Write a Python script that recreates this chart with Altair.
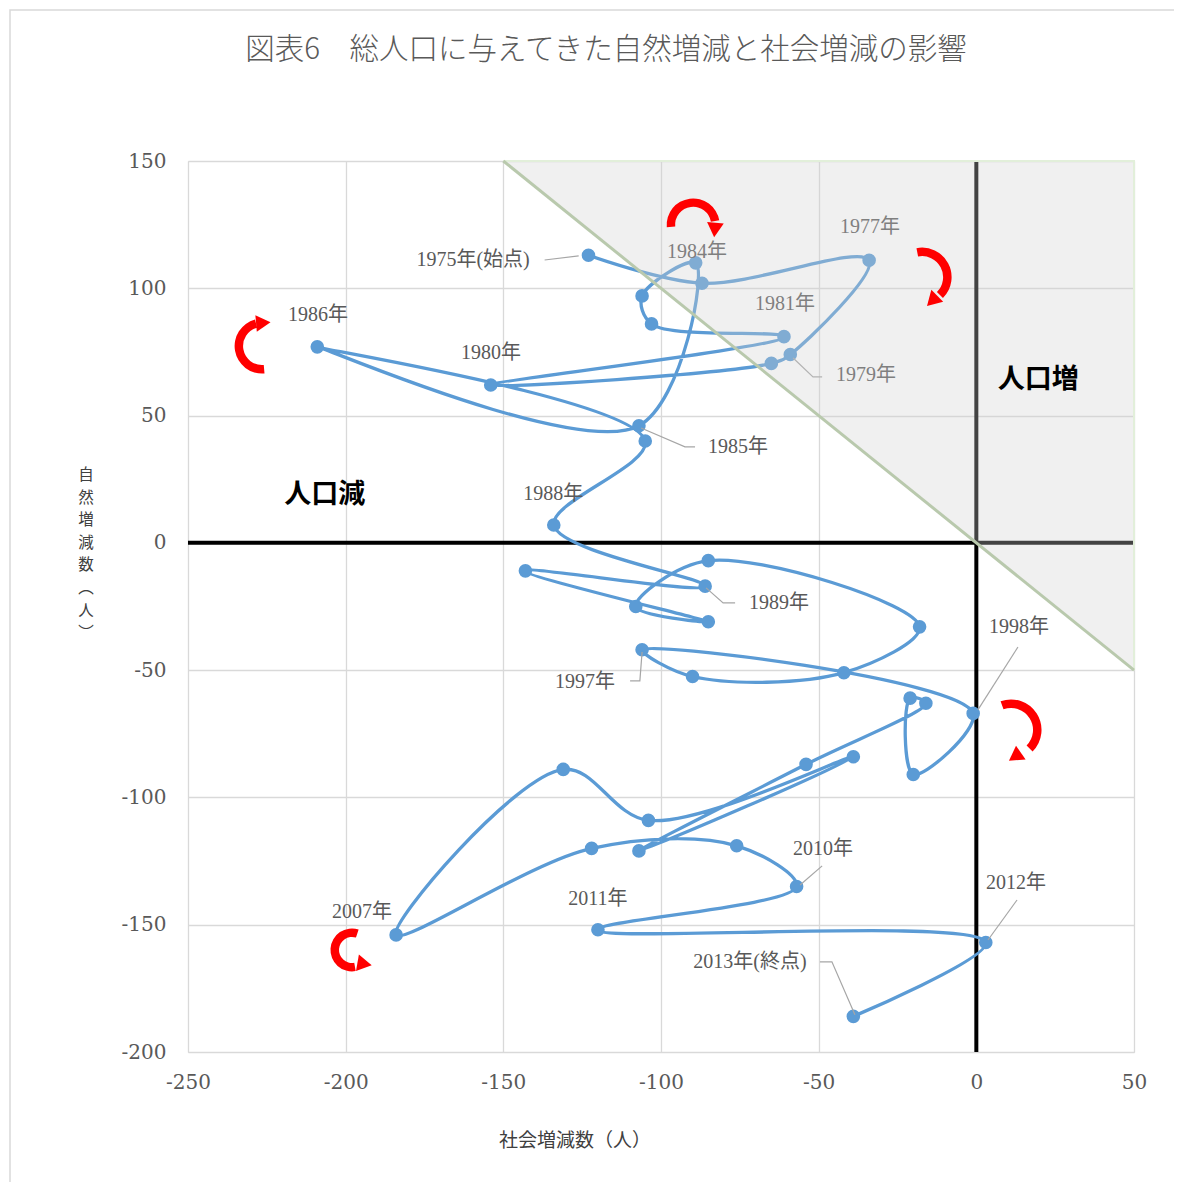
import math
import altair as alt
import pandas as pd

# ---------------- data ----------------
years = list(range(1975, 2014))
social = [-123, -87, -34, -59, -65, -154, -61, -103, -106, -89,
          -107, -209, -105, -134, -86, -143, -85, -108, -85, -18,
          -42, -90, -106, -1, -20, -21, -16, -54, -107, -39,
          -104, -131, -184, -122, -76, -57, -120, 3, -39]
natural = [113, 102, 111, 74, 70.5, 62, 81, 86, 97, 110,
           46, 77, 40, 7, -17, -11, -31, -25, -7, -33,
           -51, -52.5, -42, -67, -91, -61, -63, -87, -121, -84,
           -109, -89, -154, -120, -119, -135, -152, -157, -186]

label_text = ["1975年(始点)", "1984年", "1977年", "1981年", "1979年", "1980年",
              "1986年", "1985年", "1988年", "1989年", "1997年", "1998年",
              "2007年", "2010年", "2011年", "2012年", "2013年(終点)"]
label_x = [-159.6, -88.6, -33.7, -60.7, -35.0, -153.9, -208.8, -75.6, -134.2,
           -62.6, -124.1, 13.5, -194.8, -48.6, -120.0, 12.6, -71.8]
label_y = [111.1, 114.3, 124.1, 93.8, 66.0, 74.6, 89.5, 37.7, 19.2,
           -23.6, -54.6, -33.0, -145.0, -120.2, -139.9, -133.6, -164.6]

leader_id = [0, 0, 1, 1, 1, 2, 2, 2, 3, 3, 3, 4, 4, 4, 5, 5, 6, 6, 7, 7, 8, 8, 8]
leader_x = [-136.9, -126.1, -48.9, -51.8, -58.1, -89.2, -92.4, -106.3,
            -76.5, -80.3, -85.7, -109.8, -106.7, -106.0, 13.2, 0.5,
            -48.9, -55.9, 12.9, 3.7, -49.6, -45.8, -38.5]
leader_y = [111.1, 112.7, 65.2, 65.2, 72.6, 37.7, 37.7, 45.1,
            -23.6, -23.6, -17.7, -54.2, -54.2, -42.9, -40.9, -65.6,
            -126.9, -134.4, -140.3, -156.0, -164.6, -164.6, -185.4]

zone_text = ["人口増", "人口減"]
zone_x = [19.6, -206.6]
zone_y = [64.0, 18.8]

# curved red arrows: centre (data units), radius (px), arc span (deg), head
arrow_cx = [-89.8, -17.2, -226.5, 11.0, -198.0]
arrow_cy = [124.9, 104.4, 77.3, -73.5, -159.9]
arrow_r = [22, 25, 23, 26, 17]
arrow_t1 = [265, 349, 175, 340, 170]
arrow_t2 = [440, 495, 345, 495, 378]
arrow_head_t = [97, 152, 357, 167, 143]
arrow_head_angle = [185, 225, 85, 235, 100]

x_ticks = [-250, -200, -150, -100, -50, 0, 50]
y_ticks = [-200, -150, -100, -50, 0, 50, 100, 150]

y_title_chars = list("自然増減数︵人︶")

# ---------------- layout ----------------
W, H = 946, 891
PX_X = W / 300.0
PX_Y = H / 350.0
BLUE = "#5b9bd5"
GREY_TXT = "#595959"

xs = alt.Scale(domain=[-250, 50], nice=False, zero=False)
ys = alt.Scale(domain=[-200, 150], nice=False, zero=False)

XAX = alt.Axis(values=x_ticks, title=None, grid=True, ticks=False, domain=False,
               labelPadding=20, labelFont="DejaVu Serif", labelFontSize=20,
               labelColor=GREY_TXT, labelExpr="'' + datum.value",
               labelFlush=False, labelOverlap=False,
               gridColor="#d9d9d9", gridWidth=1.3)
YAX = alt.Axis(values=y_ticks, title=None, grid=True, ticks=False, domain=False,
               labelPadding=22, labelFont="DejaVu Serif", labelFontSize=20,
               labelColor=GREY_TXT, labelExpr="'' + datum.value",
               labelFlush=False, labelOverlap=False,
               gridColor="#d9d9d9", gridWidth=1.3)


def X(f):
    return alt.X(f, type="quantitative", scale=xs, axis=XAX)


def Y(f):
    return alt.Y(f, type="quantitative", scale=ys, axis=YAX)


df = pd.DataFrame({"year": years, "social": social, "natural": natural,
                   "i": list(range(len(years)))})
lab = pd.DataFrame({"t": label_text, "x": label_x, "y": label_y})
lead = pd.DataFrame({"g": leader_id, "x": leader_x, "y": leader_y,
                     "o": list(range(len(leader_id)))})
zones = pd.DataFrame({"t": zone_text, "x": zone_x, "y": zone_y})
one = pd.DataFrame({"a": [0]})
ychars = pd.DataFrame({"c": y_title_chars, "k": list(range(len(y_title_chars)))})

# black lines at 0
hline = alt.Chart(pd.DataFrame({"x": [-250], "x2": [50], "y": [0]})).mark_rule(
    color="black", strokeWidth=4).encode(x=X("x"), x2="x2:Q", y=Y("y"))
vline = alt.Chart(pd.DataFrame({"x": [0], "y": [-200], "y2": [150]})).mark_rule(
    color="black", strokeWidth=4).encode(x=X("x"), y=Y("y"), y2="y2:Q")

# outer frame
frame = alt.Chart(one).mark_rect(fillOpacity=0, stroke="#d9d9d9", strokeWidth=1.5).encode(
    x=alt.value(-178), x2=alt.value(1300), y=alt.value(-151), y2=alt.value(1300))

path = alt.Chart(df).mark_line(color=BLUE, strokeWidth=3.3, interpolate="catmull-rom").encode(
    x=X("social"), y=Y("natural"), order="i:Q")
pts = alt.Chart(df).mark_circle(color=BLUE, size=185, opacity=1).encode(
    x=X("social"), y=Y("natural"))

leaders = alt.Chart(lead).mark_line(color="#a6a6a6", strokeWidth=1.2).encode(
    x=X("x"), y=Y("y"), detail="g:N", order="o:Q")

labels = alt.Chart(lab).mark_text(font="Liberation Serif, Noto Sans CJK JP", fontSize=20,
                                  color=GREY_TXT, align="center", baseline="middle").encode(
    x=X("x"), y=Y("y"), text="t:N")

# shaded "population increase" triangle
shade = alt.Chart(pd.DataFrame({"x": [-150, 50], "y": [150, 150], "y2": [150, -50]})).mark_area(
    color="#cfcfcf", opacity=0.32).encode(x=X("x"), y=Y("y"), y2="y2:Q")
shade_edge = alt.Chart(pd.DataFrame({"x": [-150, 50, 50], "y": [150, 150, -50],
                                     "o": [0, 1, 2]})).mark_line(
    color="#e2efda", strokeWidth=2).encode(x=X("x"), y=Y("y"), order="o:Q")
diag = alt.Chart(pd.DataFrame({"x": [-150, 50], "y": [150, -50]})).mark_line(
    color="#b9c9ad", strokeWidth=3).encode(x=X("x"), y=Y("y"))

zone_lbl = alt.Chart(zones).mark_text(font="Noto Sans CJK JP", fontSize=27, fontWeight="bold",
                                      color="black", align="center", baseline="middle").encode(
    x=X("x"), y=Y("y"), text="t:N")

arrow_layers = []
for cx, cy, r, t1, t2, ht, ha in zip(arrow_cx, arrow_cy, arrow_r, arrow_t1, arrow_t2,
                                     arrow_head_t, arrow_head_angle):
    arc = alt.Chart(pd.DataFrame({"x": [cx], "y": [cy]})).mark_arc(
        color="#ff0000", radius=r + 4.5, radius2=r - 4,
        theta=math.radians(t1), theta2=math.radians(t2)).encode(x=X("x"), y=Y("y"))
    hx = cx + r * math.sin(math.radians(ht)) / PX_X
    hy = cy + r * math.cos(math.radians(ht)) / PX_Y
    head = alt.Chart(pd.DataFrame({"x": [hx], "y": [hy]})).mark_point(
        shape="triangle", filled=True, color="#ff0000", size=280, angle=ha,
        opacity=1).encode(x=X("x"), y=Y("y"))
    arrow_layers += [arc, head]

title = alt.Chart(one).mark_text(font="Noto Sans CJK JP", fontSize=29.5, fontWeight=300,
                                 color=GREY_TXT, align="center", baseline="middle").encode(
    x=alt.value(418), y=alt.value(-111),
    text=alt.value("図表6　総人口に与えてきた自然増減と社会増減の影響"))
xtitle = alt.Chart(one).mark_text(font="Noto Sans CJK JP", fontSize=19,
                                  color="#404040", align="center", baseline="middle").encode(
    x=alt.value(387), y=alt.value(980), text=alt.value("社会増減数（人）"))
ytitle = alt.Chart(ychars).mark_text(font="Noto Sans CJK JP", fontSize=15.5,
                                     color="#404040", align="center", baseline="middle").encode(
    x=alt.value(-102),
    y=alt.Y("yp:Q", scale=None),
    text="c:N").transform_calculate(yp="314 + datum.k * 22.6")

chart = alt.layer(
    hline, vline, frame, path, pts, leaders, labels, shade, shade_edge, diag,
    zone_lbl, *arrow_layers, title, xtitle, ytitle
).properties(
    width=W, height=H,
    autosize=alt.AutoSizeParams(type="none"),
    padding={"left": 180, "top": 153, "right": 40, "bottom": 130},
).configure_view(stroke=None).configure(background="white")

chart.save("out.html", embed_options={"renderer": "svg", "actions": False})
